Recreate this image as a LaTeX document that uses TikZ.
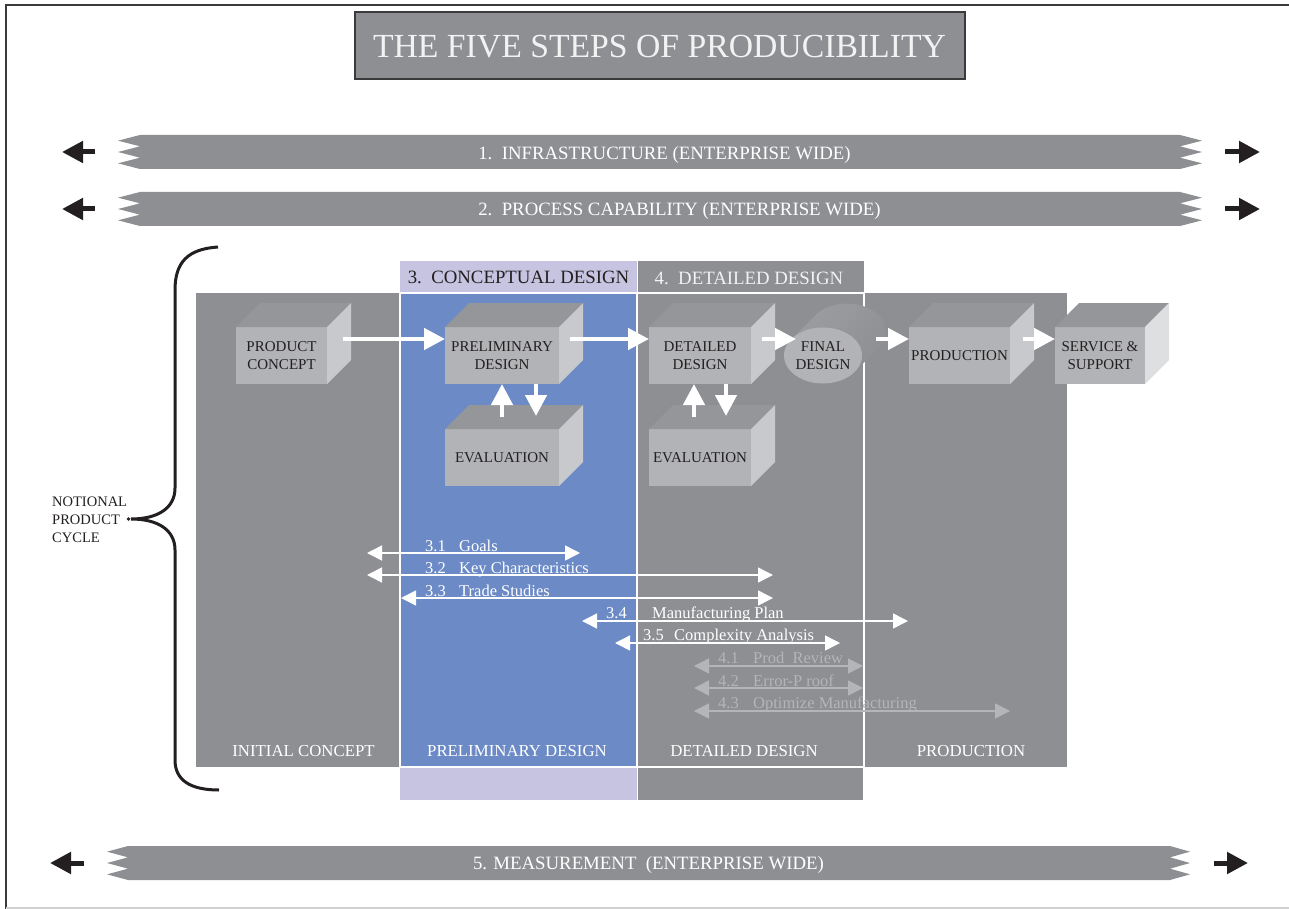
\documentclass[tikz,border=0pt]{standalone}
\usepackage{fontspec}
\setmainfont{Liberation Serif}
\usetikzlibrary{arrows.meta,shapes.geometric,calc}
\definecolor{bggray}{HTML}{8E8F93}
\definecolor{blueC}{HTML}{6B8AC6}
\definecolor{lavC}{HTML}{C6C4E1}
\definecolor{frontC}{HTML}{B2B3B6}
\definecolor{topC}{HTML}{959699}
\definecolor{sideC}{HTML}{C8C9CC}
\definecolor{lightarr}{HTML}{B4B5B8}
\definecolor{darktext}{HTML}{231F20}
\definecolor{framec}{HTML}{3A3A3A}
\definecolor{cylA}{HTML}{9C9DA0}
\definecolor{cylB}{HTML}{C2C3C5}
\newcommand\myfs[2]{\fontsize{#1}{#2}\selectfont}
\newcommand\mybanner[5]{%
  \fill[bggray] (#3,#1) -- (#4,#1) -- (#5,{#1+5.67}) -- (#4,{#1+11.33}) -- (#5,{#1+17}) -- (#4,{#1+22.67}) -- (#5,{#1+28.33}) -- (#4,{#1+34})
   -- (#3,{#1+34}) -- (#2,{#1+28.33}) -- (#3,{#1+22.67}) -- (#2,{#1+17}) -- (#3,{#1+11.33}) -- (#2,{#1+5.67}) -- cycle;}
\newcommand\mycube[7]{%
  \node[cubefront, minimum width=#4, minimum height=#5] (#1) at (#2,#3) {#6};
  \fill[topC] (#1.north west) -- ++(24pt,24pt) -- ([shift={(24pt,24pt)}]#1.north east) -- (#1.north east) -- cycle;
  \fill[#7] (#1.north east) -- ++(24pt,24pt) -- ([shift={(24pt,24pt)}]#1.south east) -- (#1.south east) -- cycle;}
\begin{document}
\begin{tikzpicture}[x=1pt,y=-1pt,
  cubefront/.style={fill=frontC, inner sep=0pt, outer sep=0pt, font=\myfs{15}{18}, text=darktext, align=center},
  wa/.style={draw=white, line width=4.5pt, -{Triangle[length=21pt,width=21pt]}},
  ba/.style={draw=darktext, line width=5pt, -{Triangle[length=21pt,width=21pt]}},
  span/.style={draw=white, line width=1.5pt, {Triangle[length=15pt,width=15pt]}-{Triangle[length=15pt,width=15pt]}},
  spang/.style={span, draw=lightarr},
  spanlbl/.style={anchor=base west, inner sep=0pt, font=\myfs{16.5}{18}, text=white},
  spanlblg/.style={spanlbl, text=lightarr},
  bantext/.style={anchor=base, inner sep=0pt, font=\myfs{18.8}{20}, text=white},
  collbl/.style={anchor=base, inner sep=0pt, font=\myfs{16.8}{18}, text=white}]
\useasboundingbox (0,0) rectangle (1289,909);
\fill[white] (0,0) rectangle (1289,909);
% frame
\draw[framec, line width=2pt] (1289,5) -- (6,5) -- (6,909);
\draw[black!18, line width=1.5pt] (6,908) -- (1289,908);
% title
\node[draw=framec, fill=bggray, line width=1.5pt, minimum width=610pt, minimum height=67pt, inner sep=0pt] (titlebox) at (660,45.5) {};
\node[anchor=base, inner sep=0pt, font=\myfs{33.7}{36}, text=white!95!black] (title) at (659.5,58) {THE FIVE STEPS OF PRODUCIBILITY};
% banners
\mybanner{135}{118}{140}{1180}{1202}
\mybanner{192}{118}{140}{1180}{1202}
\mybanner{846}{107}{128}{1170}{1190}
\node[bantext] (b1) at (664.5,159.5) {1.\ \ INFRASTRUCTURE (ENTERPRISE WIDE)};
\node[bantext] (b2) at (679.5,215.5) {2.\ \ PROCESS CAPABILITY (ENTERPRISE WIDE)};
\node[bantext] (b5) at (648.5,869.5) {5. MEASUREMENT\ \ (ENTERPRISE WIDE)};
\coordinate (l1a) at (95,152); \coordinate (l1b) at (62,152);
\coordinate (r1a) at (1225,152); \coordinate (r1b) at (1260,152);
\coordinate (l2a) at (95,209); \coordinate (l2b) at (62,209);
\coordinate (r2a) at (1225,209); \coordinate (r2b) at (1260,209);
\coordinate (l5a) at (84,863); \coordinate (l5b) at (50,863);
\coordinate (r5a) at (1214,863); \coordinate (r5b) at (1248,863);
\draw[ba] (l1a) -- (l1b); \draw[ba] (r1a) -- (r1b);
\draw[ba] (l2a) -- (l2b); \draw[ba] (r2a) -- (r2b);
\draw[ba] (l5a) -- (l5b); \draw[ba] (r5a) -- (r5b);
% main area
\fill[bggray] (196,293) rectangle (1067,767);
\fill[blueC] (400,293) rectangle (637,767);
\draw[white, line width=1.5pt] (400,293) rectangle (637,767);
\draw[white, line width=1.5pt] (637,293) rectangle (864,767);
\fill[lavC] (400,261) rectangle (636.5,292);
\fill[bggray] (637.5,261) rectangle (864,292);
\fill[lavC] (400,768) rectangle (636.5,800);
\fill[bggray] (637.5,768) rectangle (863,800);
\node[anchor=base, inner sep=0pt, font=\myfs{18.8}{20}, text=darktext] (h3) at (518.5,283.5) {3.\ \ CONCEPTUAL DESIGN};
\node[anchor=base, inner sep=0pt, font=\myfs{18.8}{20}, text=white!95!black] (h4) at (749,284.5) {4.\ \ DETAILED DESIGN};
\node[collbl] (c1) at (303.5,756.5) {INITIAL CONCEPT};
\node[collbl] (c2) at (517,756.5) {PRELIMINARY DESIGN};
\node[collbl] (c3) at (744,756.5) {DETAILED DESIGN};
\node[collbl] (c4) at (971,756.5) {PRODUCTION};
% brace
\draw[darktext, line width=3pt] (218,247) .. controls (188,249) and (175,262) .. (175,290) -- (175,488)
  .. controls (175,508) and (158,519) .. (131,519) .. controls (158,519) and (175,530) .. (175,550) -- (175,760)
  .. controls (175,780) and (190,790) .. (219,790);
\fill[darktext] (128.5,519) circle (1.8pt);
\node[anchor=west, align=left, inner sep=0pt, font=\myfs{14.5}{18}, text=darktext] (npc) at (52,520) {NOTIONAL\\PRODUCT\\CYCLE};
% cubes
\mycube{pc}{281.5}{355.5}{91pt}{57pt}{PRODUCT\\CONCEPT}{sideC}
\mycube{pd}{502}{355.5}{114pt}{57pt}{PRELIMINARY\\DESIGN}{sideC}
\mycube{ev1}{502}{457.5}{114pt}{57pt}{EVALUATION}{sideC}
\mycube{dd}{700}{355.5}{102pt}{57pt}{DETAILED\\DESIGN}{sideC}
\mycube{ev2}{700}{457.5}{102pt}{57pt}{EVALUATION}{sideC}
\mycube{pr}{959.5}{355.5}{101pt}{57pt}{PRODUCTION}{sideC}
\mycube{ss}{1100}{355.5}{90pt}{57pt}{SERVICE \&\\SUPPORT}{sideC!60!white}
% cylinder
\shade[top color=cylA, middle color=cylB, bottom color=bggray, shading angle=45] (791.3,339.2) -- (815.3,315.2) arc[start angle=144.3, end angle=-35.7, x radius=39pt, y radius=28pt] -- (854.7,371.8) -- cycle;
\node[ellipse, fill=frontC, minimum width=78pt, minimum height=56pt, inner sep=0pt, outer sep=0pt, font=\myfs{15}{18}, text=darktext, align=center] (fd) at (823,355.5) {FINAL\\DESIGN};
% flow arrows
\draw[wa] ([shift={(16pt,16.5pt)}]pc.east) -- ([yshift=16.5pt]pd.west);
\draw[wa] ([shift={(11pt,16.5pt)}]pd.east) -- ([yshift=16.5pt]dd.west);
\draw[wa] ([shift={(11pt,16.5pt)}]dd.east) -- ($(fd.center)+(-27,-16.5)$);
\draw[wa] ($(fd.center)+(53,-16.5)$) -- ([yshift=16.5pt]pr.west);
\draw[wa] ([shift={(13pt,16.5pt)}]pr.east) -- ([yshift=16.5pt]ss.west);
\draw[wa] ([yshift=12pt]ev1.north) -- (pd.south);
\draw[wa] ([xshift=34pt]pd.south) -- ([shift={(34pt,13pt)}]ev1.north);
\draw[wa] ([shift={(-6pt,12pt)}]ev2.north) -- ([xshift=-6pt]dd.south);
\draw[wa] ([xshift=26pt]dd.south) -- ([shift={(26pt,13pt)}]ev2.north);
% spans
\coordinate (g1a) at (367,553); \coordinate (g1b) at (580,553);
\coordinate (g2a) at (367,575); \coordinate (g2b) at (773,575);
\coordinate (g3a) at (401,598); \coordinate (g3b) at (773,598);
\coordinate (g4a) at (582,621); \coordinate (g4b) at (908,621);
\coordinate (g5a) at (615,643); \coordinate (g5b) at (840,643);
\coordinate (g6a) at (694,666); \coordinate (g6b) at (863,666);
\coordinate (g7a) at (694,688); \coordinate (g7b) at (863,688);
\coordinate (g8a) at (694,711); \coordinate (g8b) at (1010,711);
\draw[span] (g1a) -- (g1b);
\draw[span] (g2a) -- (g2b);
\draw[span] (g3a) -- (g3b);
\draw[span] (g4a) -- (g4b);
\draw[span] (g5a) -- (g5b);
\draw[spang] (g6a) -- (g6b);
\draw[spang] (g7a) -- (g7b);
\draw[spang] (g8a) -- (g8b);
\node[spanlbl] (n1) at (425,551) {3.1}; \node[spanlbl] (t1) at (459,551) {Goals};
\node[spanlbl] (n2) at (425,573) {3.2}; \node[spanlbl] (t2) at (459,573) {Key Characteristics};
\node[spanlbl] (n3) at (425,596) {3.3}; \node[spanlbl] (t3) at (459,596) {Trade Studies};
\node[spanlbl] (n4) at (606,618.5) {3.4}; \node[spanlbl] (t4) at (652,618.5) {Manufacturing Plan};
\node[spanlbl] (n5) at (643,640.5) {3.5}; \node[spanlbl] (t5) at (674,640.5) {Complexity Analysis};
\node[spanlblg] (n6) at (718,663.5) {4.1}; \node[spanlblg] (t6) at (753,663.5) {Prod\ \ Review};
\node[spanlblg] (n7) at (718,686) {4.2}; \node[spanlblg] (t7) at (753,686) {Error-P roof};
\node[spanlblg] (n8) at (718,708.5) {4.3}; \node[spanlblg] (t8) at (753,708.5) {Optimize Manufacturing};
\end{tikzpicture}
\end{document}
